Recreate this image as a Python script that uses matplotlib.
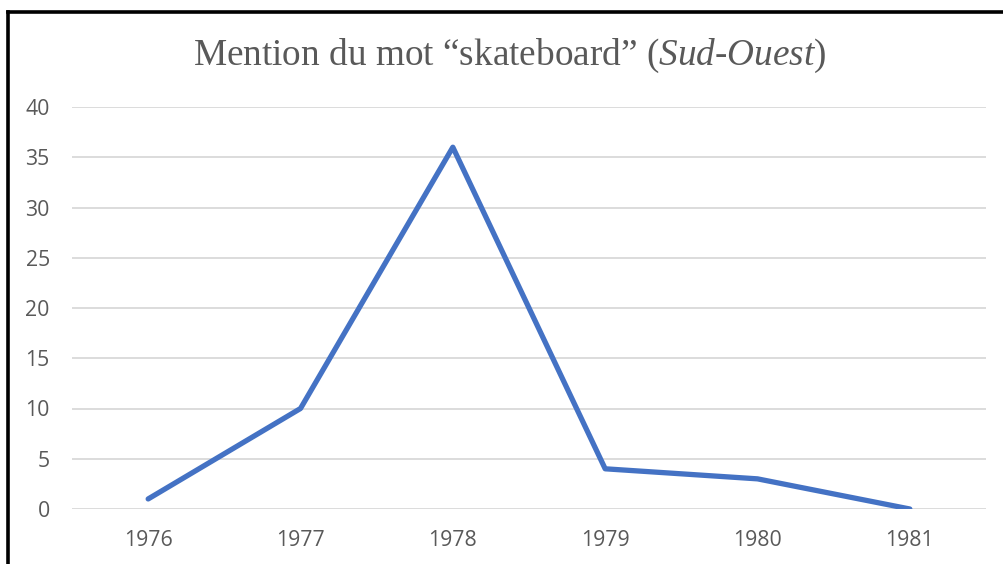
import matplotlib
matplotlib.use("Agg")
import matplotlib.pyplot as plt
from matplotlib.lines import Line2D

# data
years = ["1976", "1977", "1978", "1979", "1980", "1981"]
mentions = [1, 10, 36, 4, 3, 0]
yticks = [0, 5, 10, 15, 20, 25, 30, 35, 40]

plt.rcParams['mathtext.fontset'] = 'custom'
plt.rcParams['mathtext.rm'] = 'Liberation Serif'
plt.rcParams['mathtext.it'] = 'Liberation Serif:italic'

W, H = 1004, 564
fig = plt.figure(figsize=(W / 100, H / 100), dpi=100)
ax = fig.add_axes([72 / W, 55 / H, (986 - 72) / W, (509 - 107) / H])

x = list(range(len(years)))
ax.plot(x, mentions, color='#4472C4', linewidth=3.8, solid_capstyle='round', zorder=3)

ax.set_xlim(-0.5, len(years) - 0.5)
ax.set_ylim(0, 40)
ax.set_yticks(yticks)
ax.set_xticks(x)
ax.set_xticklabels(years)
ax.grid(axis='y', color='#D9D9D9', linewidth=1.3)
ax.set_axisbelow(True)
for s in ax.spines.values():
    s.set_visible(False)
ax.tick_params(axis='both', length=0, labelcolor='#595959', labelsize=15.3)
ax.tick_params(axis='y', pad=16)
ax.tick_params(axis='x', pad=15)
for lab in ax.get_xticklabels() + ax.get_yticklabels():
    lab.set_fontfamily('Open Sans')

fig.text(510 / W, 1 - 65 / H,
         "Mention du mot \u201cskateboard\u201d ($\\mathit{Sud}$-$\\mathit{Ouest}$)",
         ha='center', va='baseline', fontsize=26.8, color='#595959',
         family='Liberation Serif')

# black frame round the chart, cut by the image edges on the right and bottom
fig.add_artist(Line2D([8 / W, 8 / W], [0, 1 - 12 / H], color='black',
                      linewidth=2.6, transform=fig.transFigure))
fig.add_artist(Line2D([8 / W, 1], [1 - 12 / H, 1 - 12 / H], color='black',
                      linewidth=2.6, transform=fig.transFigure))

fig.savefig("out.png", dpi=100)
